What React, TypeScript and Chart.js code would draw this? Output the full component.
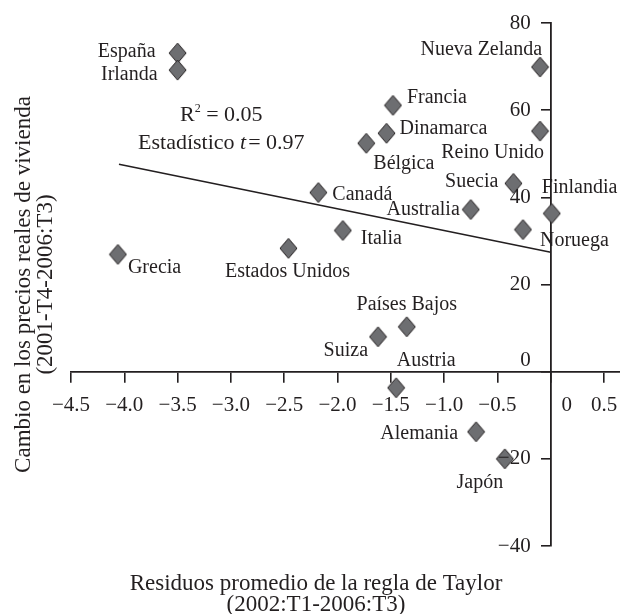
import React, { useEffect, useRef } from "react";
import { Chart, registerables } from "chart.js";

Chart.register(...registerables);

// ---- Data ----
const countries = [
  "España", "Irlanda", "Grecia", "Estados Unidos", "Canadá", "Italia", "Bélgica",
  "Dinamarca", "Francia", "Australia", "Suecia", "Noruega", "Reino Unido",
  "Nueva Zelanda", "Finlandia", "Países Bajos", "Suiza", "Austria", "Alemania", "Japón",
];
const taylorResiduals = [
  -3.5, -3.5, -4.06, -2.46, -2.18, -1.95, -1.73,
  -1.54, -1.48, -0.75, -0.35, -0.26, -0.1,
  -0.1, 0.01, -1.35, -1.62, -1.45, -0.7, -0.43,
];
const housePriceChange = [
  73.1, 69.2, 26.9, 28.3, 41.1, 32.4, 52.4,
  54.7, 61.1, 37.2, 43.2, 32.6, 55.2,
  69.9, 36.3, 10.3, 8.0, -3.7, -13.8, -20.0,
];
const fitLineX = [-4.05, 0];
const fitLineY = [47.6, 27.4];
const xTickValues = [-4.5, -4.0, -3.5, -3.0, -2.5, -2.0, -1.5, -1.0, -0.5, 0, 0.5];
const yTickValues = [-40, -20, 0, 20, 40, 60, 80];
const xTitle = ["Residuos promedio de la regla de Taylor", "(2002:T1-2006:T3)"];
const yTitle = ["Cambio en los precios reales de vivienda", "(2001-T4-2006:T3)"];
const statR2 = "0.05";
const statT = "0.97";

// ---- Label placement (pixel offsets from each marker) ----
const labelOffsets: [number, number, CanvasTextAlign][] = [
  [-22, -1, "right"], [-20, 5, "right"], [10, 13, "left"], [-1, 23, "center"],
  [14, 2, "left"], [18, 8, "left"], [7, 20, "left"], [13, -5, "left"],
  [14, -8, "left"], [-11, 0, "right"], [-15, -2, "right"], [17, 11, "left"],
  [4, 22, "right"], [2, -17, "right"], [-10, -26, "left"], [0, -22, "center"],
  [-10, 14, "right"], [30, -27, "center"], [-18, 2, "right"], [-25, 24, "center"],
];

const FONT = "'Liberation Serif', 'Times New Roman', serif";
const INK = "#231f20";
const MARKER_FILL = "#6d6e71";

function makeDiamond(): HTMLCanvasElement {
  const w = 19, h = 22;
  const c = document.createElement("canvas");
  c.width = w;
  c.height = h;
  const g = c.getContext("2d")!;
  g.beginPath();
  g.moveTo(w / 2, 1);
  g.lineTo(w - 1, h / 2);
  g.lineTo(w / 2, h - 1);
  g.lineTo(1, h / 2);
  g.closePath();
  g.fillStyle = MARKER_FILL;
  g.fill();
  g.lineWidth = 1;
  g.strokeStyle = INK;
  g.stroke();
  return c;
}

function fmt(v: number, decimals: number) {
  if (v === 0) return "0";
  const s = Math.abs(v).toFixed(decimals);
  return v < 0 ? "\u2212" + s : s;
}

const overlayPlugin = {
  id: "overlay",
  afterDatasetsDraw(chart: any) {
    const ctx = chart.ctx as CanvasRenderingContext2D;
    const xs = chart.scales.x;
    const ys = chart.scales.y;
    const area = chart.chartArea;
    const x0 = xs.getPixelForValue(0);
    const y0 = ys.getPixelForValue(0);
    ctx.save();
    ctx.fillStyle = INK;

    // tick labels
    ctx.font = `21px ${FONT}`;
    ctx.textAlign = "center";
    ctx.textBaseline = "middle";
    xs.ticks.forEach((t: any) => {
      const px = xs.getPixelForValue(t.value) + (t.value === 0 ? 16 : 0);
      ctx.fillText(fmt(t.value, 1), px, y0 + 34);
    });
    ctx.textAlign = "right";
    ys.ticks.forEach((t: any) => {
      const py = ys.getPixelForValue(t.value) + (t.value === 0 ? -11 : 0);
      ctx.fillText(fmt(t.value, 0), x0 - 20, py);
    });

    // point labels
    const meta = chart.getDatasetMeta(0);
    ctx.font = `20px ${FONT}`;
    meta.data.forEach((el: any, i: number) => {
      const [dx, dy, align] = labelOffsets[i];
      ctx.textAlign = align;
      ctx.fillText(countries[i], el.x + dx, el.y + dy);
    });

    // statistics annotation
    const F = 22;
    const cx = xs.getPixelForValue(-3.09);
    const l1y = ys.getPixelForValue(58.8);
    const l2y = ys.getPixelForValue(52.4);
    ctx.textAlign = "left";
    ctx.font = `${F}px ${FONT}`;
    const wR = ctx.measureText("R").width;
    const rest1 = " = " + statR2;
    const wRest1 = ctx.measureText(rest1).width;
    ctx.font = `12px ${FONT}`;
    const wSup = ctx.measureText("2").width;
    let sx = cx - (wR + wSup + wRest1) / 2;
    ctx.font = `${F}px ${FONT}`;
    ctx.fillText("R", sx, l1y);
    ctx.font = `12px ${FONT}`;
    ctx.fillText("2", sx + wR, l1y - 7);
    ctx.font = `${F}px ${FONT}`;
    ctx.fillText(rest1, sx + wR + wSup, l1y);

    const a = "Estadístico ";
    const c = "= " + statT;
    ctx.font = `${F}px ${FONT}`;
    const wa = ctx.measureText(a).width;
    const wc = ctx.measureText(c).width;
    ctx.font = `italic ${F}px ${FONT}`;
    const wb = ctx.measureText("t").width + 2;
    sx = cx - (wa + wb + wc) / 2;
    ctx.font = `${F}px ${FONT}`;
    ctx.fillText(a, sx, l2y);
    ctx.font = `italic ${F}px ${FONT}`;
    ctx.fillText("t", sx + wa, l2y);
    ctx.font = `${F}px ${FONT}`;
    ctx.fillText(c, sx + wa + wb, l2y);

    // axis titles
    ctx.font = `23px ${FONT}`;
    ctx.textAlign = "center";
    ctx.fillText(xTitle[0], 316, 584);
    ctx.fillText(xTitle[1], 316, 605);
    const midY = (area.top + area.bottom) / 2;
    ctx.translate(24, midY);
    ctx.rotate(-Math.PI / 2);
    ctx.fillText(yTitle[0], 0, 0);
    ctx.fillText(yTitle[1], 0, 22);
    ctx.restore();
  },
};

export default function App() {
  const canvasRef = useRef<HTMLCanvasElement | null>(null);

  useEffect(() => {
    const canvas = canvasRef.current;
    if (!canvas) return;
    const diamond = makeDiamond();
    const chart = new Chart(canvas, {
      type: "scatter",
      data: {
        datasets: [
          {
            type: "scatter",
            data: taylorResiduals.map((x, i) => ({ x, y: housePriceChange[i] })),
            pointStyle: diamond,
            pointRadius: 10,
            pointHoverRadius: 10,
            backgroundColor: MARKER_FILL,
            borderColor: INK,
            borderWidth: 1,
            clip: false,
            order: 0,
          } as any,
          {
            type: "line",
            data: fitLineX.map((x, i) => ({ x, y: fitLineY[i] })),
            borderColor: INK,
            borderWidth: 1.6,
            pointRadius: 0,
            fill: false,
            order: 1,
          } as any,
        ],
      },
      options: {
        responsive: false,
        animation: false,
        devicePixelRatio: 1,
        layout: { autoPadding: false, padding: { left: 71, right: 0, top: 23, bottom: 68 } },
        plugins: { legend: { display: false }, tooltip: { enabled: false } },
        scales: {
          x: {
            type: "linear",
            position: { y: 0 } as any,
            min: -4.5,
            max: 0.65,
            afterFit: (s: any) => { s.height = 0; s.paddingLeft = 0; s.paddingRight = 0; },
            afterBuildTicks: (s: any) => { s.ticks = xTickValues.map((v) => ({ value: v })); },
            ticks: { display: false, includeBounds: false, stepSize: 0.5 },
            grid: { drawOnChartArea: false, drawTicks: true, tickLength: 10, color: INK, lineWidth: 1.6 },
            border: { display: true, color: INK, width: 1.8 },
          },
          y: {
            type: "linear",
            position: { x: 0 } as any,
            min: -40,
            max: 80,
            afterFit: (s: any) => { s.width = 0; s.paddingTop = 0; s.paddingBottom = 0; },
            afterBuildTicks: (s: any) => { s.ticks = yTickValues.map((v) => ({ value: v })); },
            ticks: { display: false, includeBounds: false, stepSize: 20 },
            grid: { drawOnChartArea: false, drawTicks: true, tickLength: 9, color: INK, lineWidth: 1.6 },
            border: { display: true, color: INK, width: 1.8 },
          },
        },
      },
      plugins: [overlayPlugin],
    });
    return () => chart.destroy();
  }, []);

  return (
    <div style={{ position: "absolute", left: 0, top: 0, width: 620, height: 614, background: "#fff" }}>
      <canvas ref={canvasRef} width={620} height={614} style={{ display: "block" }} />
    </div>
  );
}
